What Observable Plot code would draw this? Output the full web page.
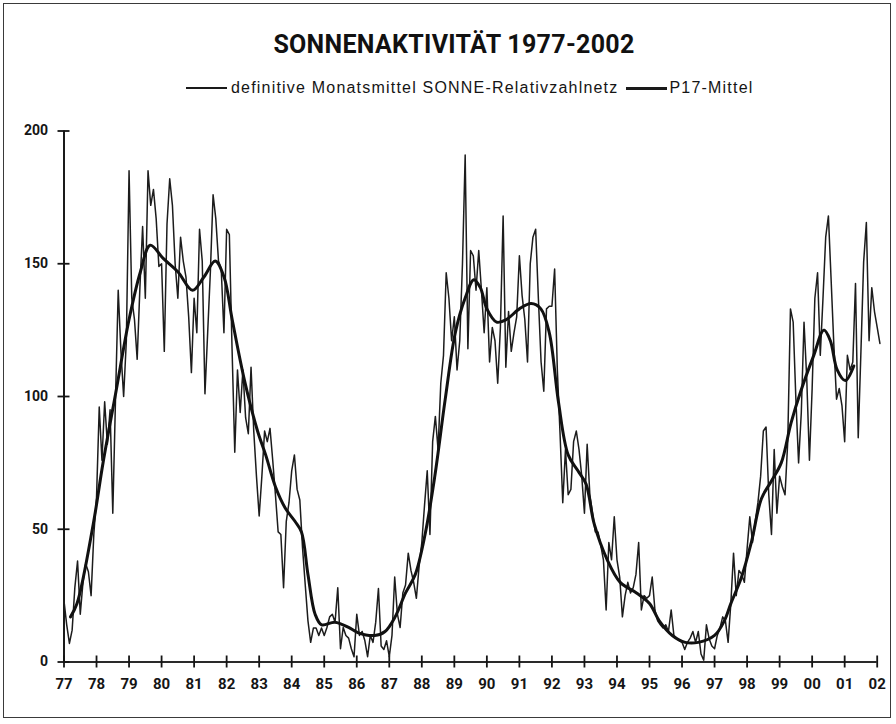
<!DOCTYPE html>
<html>
<head>
<meta charset="utf-8">
<script src="https://cdn.jsdelivr.net/npm/d3@7"></script>
<script src="https://cdn.jsdelivr.net/npm/@observablehq/plot@0.6"></script>
<style>
  html, body { margin: 0; padding: 0; background: #fff; }
  #wrap { position: relative; width: 896px; height: 724px; overflow: hidden; background: #fff; }
  #frame { position: absolute; left: 3px; top: 3px; width: 888px; height: 715px; border: 1.5px solid #3a3a3a; box-sizing: border-box; }
  #title { position: absolute; top: 30px; left: 0; width: 908px; text-align: center;
           font: bold 25px Roboto, "Liberation Sans", sans-serif; color: #111; letter-spacing: 0.3px; }
  #legend { position: absolute; left: 186px; top: 78px; height: 20px; display: flex; align-items: center;
            font: 16px "Liberation Sans", Arial, sans-serif; color: #151515; letter-spacing: 1.2px; white-space: nowrap; }
  .sw { display: inline-block; width: 41px; background: #1a1a1a; }
  #chart { position: absolute; left: 0; top: 100px; }
</style>
</head>
<body>
<div id="wrap">
  <div id="frame"></div>
  <div id="title">SONNENAKTIVITÄT 1977-2002</div>
  <div id="legend">
    <span class="sw" style="height:1.5px"></span>
    <span style="margin-left:4px">definitive Monatsmittel SONNE-Relativzahlnetz</span>
    <span class="sw" style="height:3px;margin-left:8px"></span>
    <span style="margin-left:2px">P17-Mittel</span>
  </div>
  <div id="chart"></div>
</div>
<script>
// Monthly means (Jan..Dec), 1977 .. Feb 2002
const startYear = 1977;
const monatsmittel = [
  23, 14, 7, 12, 28, 38, 18, 30, 37, 34, 25, 48,            // 1977
  62, 96, 76, 98, 82, 95, 56, 99, 140, 117, 100, 121,       // 1978
  185, 137, 129, 114, 141, 164, 137, 185, 172, 178, 167, 149, // 1979
  150, 117, 165, 182, 172, 150, 137, 160, 151, 145, 130, 109, // 1980
  137, 124, 163, 151, 101, 124, 147, 176, 167, 151, 148, 124, // 1981
  163, 161, 118, 79, 110, 94, 110, 92, 86, 111, 87, 70,     // 1982
  55, 70, 87, 83, 88, 76, 63, 49, 48, 28, 53, 60,           // 1983
  72, 78, 65, 61, 43, 29, 15.5, 7.4, 12.8, 12.8, 10, 12.8,  // 1984
  10, 13, 17, 18, 15, 28, 5, 13, 10, 9, 5, 2,               // 1985
  18, 10, 11.5, 8, 2, 10, 7.4, 15, 27.7, 6, 4.7, 8,         // 1986
  2, 10, 32, 18, 13, 26, 29, 41, 34.5, 30, 24, 36,          // 1987
  45, 59, 72, 48, 83, 92.5, 80, 105, 115.5, 146.6, 137, 121, // 1988
  130, 110, 121, 150, 191, 118, 155, 153, 140, 155, 140, 124, // 1989
  141, 113, 126, 121, 105, 126, 168, 111, 132, 117, 124, 130, // 1990
  153, 138, 129, 113, 150, 160, 163, 137, 113, 102, 133, 134, // 1991
  134, 148, 110, 86, 60, 80, 63, 65, 83, 87, 80, 70,        // 1992
  56, 82, 63, 56, 49, 49, 44, 38.5, 19.6, 45, 38.5, 54.7,   // 1993
  38.5, 32, 17, 25, 30, 26, 28, 33, 45, 19.6, 25, 24,       // 1994
  25, 32, 19.6, 15.5, 14, 12.8, 14, 11.5, 19.6, 10, 9, 8,   // 1995
  7.4, 4.7, 7.4, 9, 11.5, 7.4, 11.5, 3, 0.7, 14, 8.8, 6,    // 1996
  5, 10, 12.8, 17, 15.5, 7.4, 22, 41, 25, 34.5, 33, 30,     // 1997
  42.6, 54.7, 45, 53, 60, 70, 87, 88.5, 63, 48, 80, 56,     // 1998
  70, 66, 63, 83, 133, 128, 99, 75, 94, 128, 107, 76,       // 1999
  103, 137, 146.6, 115.5, 137, 160, 168, 144, 119.6, 99, 103, 96.6, // 2000
  83, 115.5, 110, 113, 142.6, 84.5, 117, 150.7, 165.5, 121, 141, 132, // 2001
  126, 120                                                  // 2002
];

// P17 running mean, read at points along the smooth curve
const p17Years = [
  1977.2, 1977.4, 1977.9, 1978.2, 1978.6, 1979.0, 1979.35, 1979.65, 1980.05, 1980.5,
  1980.95, 1981.3, 1981.65, 1981.92, 1982.17, 1982.55, 1982.95, 1983.2, 1983.5, 1983.8,
  1984.1, 1984.3, 1984.5, 1984.72, 1984.92, 1985.33, 1985.75, 1986.05, 1986.55, 1986.87,
  1987.18, 1987.5, 1987.8, 1988.1, 1988.4, 1988.72, 1989.03, 1989.33, 1989.6, 1989.8,
  1990.0, 1990.3, 1990.6, 1991.0, 1991.36, 1991.66, 1991.92, 1992.2, 1992.5, 1992.8,
  1993.05, 1993.3, 1993.7, 1994.1, 1994.6, 1995.0, 1995.3, 1995.7, 1996.1, 1996.5,
  1997.0, 1997.3, 1997.5, 1997.83, 1998.13, 1998.44, 1998.74, 1999.05, 1999.35, 1999.65,
  2000.05, 2000.36, 2000.56, 2000.77, 2001.02, 2001.28
];
const p17Values = [
  17, 22, 52, 75, 102, 129, 147, 157, 152, 147,
  140, 145, 151, 145, 129, 106, 87, 78, 66, 58,
  53, 49, 33, 18, 14, 15, 13, 11, 10, 11.5,
  17, 26, 33, 48, 70, 99, 124, 137, 144, 141,
  133, 128, 129, 133, 135, 133, 124, 98, 78, 72,
  67, 52, 38.5, 30, 26, 22, 15.5, 10, 7.4, 7.4,
  10, 15.5, 22, 32, 45, 61.5, 68, 75, 90, 102,
  115.5, 125, 121, 110, 106, 111.5
];

const tickYears = [1977,1978,1979,1980,1981,1982,1983,1984,1985,1986,1987,1988,1989,
                   1990,1991,1992,1993,1994,1995,1996,1997,1998,1999,2000,2001,2002];
const tickLabels = ["77","78","79","80","81","82","83","84","85","86","87","88","89",
                    "90","91","92","93","94","95","96","97","98","99","00","01","02"];
const yTicks = [0, 50, 100, 150, 200];

const monthly = monatsmittel.map((v, i) => ({t: startYear + i / 12, v}));
const p17 = p17Years.map((t, i) => ({t, v: p17Values[i]}));

const AXFONT = 'Roboto, "Liberation Sans", sans-serif';

const chart = Plot.plot({
  width: 896,
  height: 620,
  marginTop: 30.5,
  marginBottom: 58.5,
  marginLeft: 63.5,
  marginRight: 19.3,
  x: {type: "linear", domain: [1977, 2002], axis: null},
  y: {type: "linear", domain: [0, 200], axis: null},
  style: {fontFamily: AXFONT, background: "transparent", color: "#151515", overflow: "visible"},
  marks: [
    Plot.ruleY([0], {stroke: "#2a2a2a", strokeWidth: 1.8}),
    Plot.ruleX([1977], {stroke: "#1a1a1a", strokeWidth: 2}),
    Plot.axisX({ticks: tickYears, tickSize: 12, dy: -6, tickFormat: () => "", label: null, strokeWidth: 1.8}),
    Plot.axisX({ticks: tickYears, tickSize: 0, tickPadding: 16,
                tickFormat: d => tickLabels[tickYears.indexOf(d)], label: null,
                fontSize: 15, fontWeight: "bold"}),
    Plot.axisY({ticks: yTicks, tickSize: 12, dx: 6, tickFormat: () => "", label: null, strokeWidth: 1.8}),
    Plot.axisY({ticks: yTicks, tickSize: 0, tickPadding: 16, tickFormat: d => String(d), label: null,
                fontSize: 14, fontWeight: "bold"}),
    Plot.line(monthly, {x: "t", y: "v", stroke: "#1c1c1c", strokeWidth: 1.5}),
    Plot.line(p17, {x: "t", y: "v", stroke: "#111", strokeWidth: 3, curve: "catmull-rom"})
  ]
});
document.getElementById("chart").appendChild(chart);
</script>
</body>
</html>
